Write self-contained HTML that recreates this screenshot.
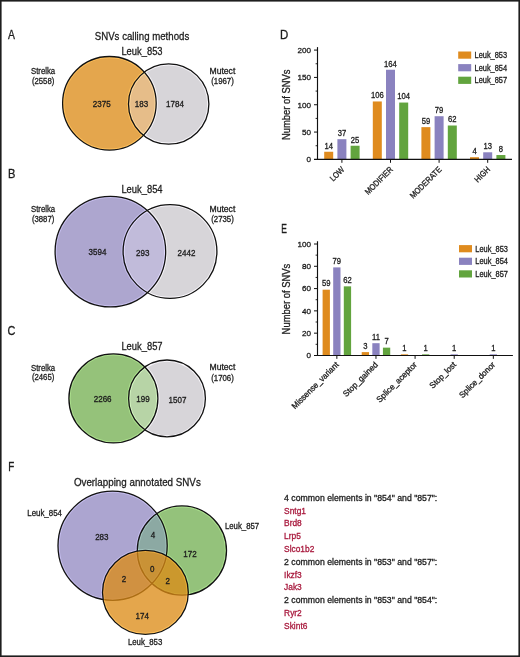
<!DOCTYPE html>
<html><head><meta charset="utf-8">
<style>
html,body{margin:0;padding:0;background:#fff;}
body{width:520px;height:657px;overflow:hidden;}
svg{display:block;will-change:transform;font-family:"Liberation Sans",sans-serif;}
text{fill:#1c1c1c;stroke:#1c1c1c;stroke-width:0.3px;}
text.red{fill:#a8183c;stroke:#a8183c;}
</style></head>
<body>
<svg width="520" height="657" viewBox="0 0 520 657">
<rect x="0.8" y="0.8" width="518.4" height="655.4" fill="#fff" stroke="#1e1e1e" stroke-width="1.6"/>
<circle cx="109.4" cy="103.3" r="46.8" fill="#e4a64d"/>
<circle cx="168.68" cy="104.01" r="40.19" fill="#d7d5d9"/>
<clipPath id="ca"><circle cx="109.4" cy="103.3" r="46.8"/></clipPath>
<circle cx="168.68" cy="104.01" r="40.19" fill="#e6bd89" clip-path="url(#ca)"/>
<circle cx="109.4" cy="103.3" r="46.8" fill="none" stroke="#222" stroke-width="3.3" style="mix-blend-mode:color-dodge"/>
<circle cx="168.68" cy="104.01" r="40.19" fill="none" stroke="#222" stroke-width="3.3" style="mix-blend-mode:color-dodge"/>
<circle cx="109.4" cy="103.3" r="46.8" fill="none" stroke="#111" stroke-width="1.3"/>
<circle cx="168.68" cy="104.01" r="40.19" fill="none" stroke="#111" stroke-width="1.3"/>
<text x="142" y="54.7" font-size="11.4" text-anchor="middle" textLength="41.2" lengthAdjust="spacingAndGlyphs">Leuk_853</text>
<text x="43.1" y="73.9" font-size="8.6" text-anchor="middle" textLength="24.2" lengthAdjust="spacingAndGlyphs">Strelka</text>
<text x="43.1" y="83.6" font-size="8.6" text-anchor="middle" textLength="22.4" lengthAdjust="spacingAndGlyphs">(2558)</text>
<text x="222.4" y="73.7" font-size="8.6" text-anchor="middle" textLength="25.8" lengthAdjust="spacingAndGlyphs">Mutect</text>
<text x="222.5" y="83.8" font-size="8.6" text-anchor="middle" textLength="22.6" lengthAdjust="spacingAndGlyphs">(1967)</text>
<text x="101.7" y="106.8" font-size="8.4" text-anchor="middle" textLength="17.85" lengthAdjust="spacingAndGlyphs">2375</text>
<text x="141.45" y="106.8" font-size="8.4" text-anchor="middle" textLength="13.38" lengthAdjust="spacingAndGlyphs">183</text>
<text x="175" y="106.8" font-size="8.4" text-anchor="middle" textLength="17.85" lengthAdjust="spacingAndGlyphs">1784</text>
<circle cx="110.4" cy="251.6" r="55.3" fill="#ada6cf"/>
<circle cx="170" cy="251.5" r="46.9" fill="#d7d5d9"/>
<clipPath id="cb"><circle cx="110.4" cy="251.6" r="55.3"/></clipPath>
<circle cx="170" cy="251.5" r="46.9" fill="#c1bbda" clip-path="url(#cb)"/>
<circle cx="110.4" cy="251.6" r="55.3" fill="none" stroke="#222" stroke-width="3.3" style="mix-blend-mode:color-dodge"/>
<circle cx="170" cy="251.5" r="46.9" fill="none" stroke="#222" stroke-width="3.3" style="mix-blend-mode:color-dodge"/>
<circle cx="110.4" cy="251.6" r="55.3" fill="none" stroke="#111" stroke-width="1.3"/>
<circle cx="170" cy="251.5" r="46.9" fill="none" stroke="#111" stroke-width="1.3"/>
<text x="142" y="193.3" font-size="11.4" text-anchor="middle" textLength="41.2" lengthAdjust="spacingAndGlyphs">Leuk_854</text>
<text x="43.1" y="212.1" font-size="8.6" text-anchor="middle" textLength="24.2" lengthAdjust="spacingAndGlyphs">Strelka</text>
<text x="43.1" y="222.2" font-size="8.6" text-anchor="middle" textLength="22.4" lengthAdjust="spacingAndGlyphs">(3887)</text>
<text x="222.4" y="211.9" font-size="8.6" text-anchor="middle" textLength="25.8" lengthAdjust="spacingAndGlyphs">Mutect</text>
<text x="222.5" y="222.39999999999998" font-size="8.6" text-anchor="middle" textLength="22.6" lengthAdjust="spacingAndGlyphs">(2735)</text>
<text x="97.5" y="255.1" font-size="8.4" text-anchor="middle" textLength="17.85" lengthAdjust="spacingAndGlyphs">3594</text>
<text x="142.7" y="255.5" font-size="8.4" text-anchor="middle" textLength="13.38" lengthAdjust="spacingAndGlyphs">293</text>
<text x="186.5" y="256" font-size="8.4" text-anchor="middle" textLength="17.85" lengthAdjust="spacingAndGlyphs">2442</text>
<circle cx="113.4" cy="398.4" r="44.5" fill="#95c27a"/>
<circle cx="167" cy="398.4" r="38.4" fill="#d7d5d9"/>
<clipPath id="cc"><circle cx="113.4" cy="398.4" r="44.5"/></clipPath>
<circle cx="167" cy="398.4" r="38.4" fill="#b7d4a6" clip-path="url(#cc)"/>
<circle cx="113.4" cy="398.4" r="44.5" fill="none" stroke="#222" stroke-width="3.3" style="mix-blend-mode:color-dodge"/>
<circle cx="167" cy="398.4" r="38.4" fill="none" stroke="#222" stroke-width="3.3" style="mix-blend-mode:color-dodge"/>
<circle cx="113.4" cy="398.4" r="44.5" fill="none" stroke="#111" stroke-width="1.3"/>
<circle cx="167" cy="398.4" r="38.4" fill="none" stroke="#111" stroke-width="1.3"/>
<text x="142" y="350" font-size="11.4" text-anchor="middle" textLength="41.2" lengthAdjust="spacingAndGlyphs">Leuk_857</text>
<text x="43.1" y="370.5" font-size="8.6" text-anchor="middle" textLength="24.2" lengthAdjust="spacingAndGlyphs">Strelka</text>
<text x="43.1" y="380.4" font-size="8.6" text-anchor="middle" textLength="22.4" lengthAdjust="spacingAndGlyphs">(2465)</text>
<text x="222.4" y="370.3" font-size="8.6" text-anchor="middle" textLength="25.8" lengthAdjust="spacingAndGlyphs">Mutect</text>
<text x="222.5" y="380.59999999999997" font-size="8.6" text-anchor="middle" textLength="22.6" lengthAdjust="spacingAndGlyphs">(1706)</text>
<text x="102.65" y="402" font-size="8.4" text-anchor="middle" textLength="17.85" lengthAdjust="spacingAndGlyphs">2266</text>
<text x="143" y="402" font-size="8.4" text-anchor="middle" textLength="13.38" lengthAdjust="spacingAndGlyphs">199</text>
<text x="177.5" y="402.5" font-size="8.4" text-anchor="middle" textLength="17.85" lengthAdjust="spacingAndGlyphs">1507</text>
<text x="142" y="40.3" font-size="11.6" text-anchor="middle" textLength="94.5" lengthAdjust="spacingAndGlyphs">SNVs calling methods</text>
<text transform="translate(8.08,39.2) scale(0.846,1)" font-size="12.3">A</text>
<text transform="translate(7.89,178) scale(0.9,1)" font-size="12.3">B</text>
<text transform="translate(7.45,335.2) scale(0.886,1)" font-size="12.3">C</text>
<text transform="translate(8.24,471) scale(0.8,1)" font-size="12.3">F</text>
<text transform="translate(279.9,38.8) scale(0.934,1)" font-size="12.3">D</text>
<text transform="translate(281.35,232.8) scale(0.69,1)" font-size="12.3">E</text>
<clipPath id="fp"><circle cx="112.6" cy="545.7" r="54.6"/></clipPath>
<circle cx="112.6" cy="545.7" r="54.6" fill="#aca5d0"/>
<circle cx="181.9" cy="550.5" r="44.6" fill="#94c27b"/>
<circle cx="181.9" cy="550.5" r="44.6" fill="#8ca9a3" clip-path="url(#fp)"/>
<circle cx="112.6" cy="545.7" r="54.6" fill="none" stroke="#222" stroke-width="3.3" style="mix-blend-mode:color-dodge"/>
<circle cx="181.9" cy="550.5" r="44.6" fill="none" stroke="#222" stroke-width="3.3" style="mix-blend-mode:color-dodge"/>
<circle cx="112.6" cy="545.7" r="54.6" fill="none" stroke="#111" stroke-width="1.3"/>
<circle cx="181.9" cy="550.5" r="44.6" fill="none" stroke="#111" stroke-width="1.3"/>
<ellipse cx="145.4" cy="592.4" rx="42.9" ry="42.0" fill="rgb(220,139,21)" fill-opacity="0.765"/>
<ellipse cx="145.4" cy="592.4" rx="42.9" ry="42.0" fill="none" stroke="#222" stroke-width="3.3" style="mix-blend-mode:color-dodge"/>
<ellipse cx="145.4" cy="592.4" rx="42.9" ry="42.0" fill="none" stroke="#111" stroke-width="1.3"/>
<text x="137.35" y="486.4" font-size="11.6" text-anchor="middle" textLength="126.9" lengthAdjust="spacingAndGlyphs">Overlapping annotated SNVs</text>
<text x="44.6" y="516.2" font-size="8.6" text-anchor="middle" textLength="34.6" lengthAdjust="spacingAndGlyphs">Leuk_854</text>
<text x="242.05" y="528.5" font-size="8.6" text-anchor="middle" textLength="34.3" lengthAdjust="spacingAndGlyphs">Leuk_857</text>
<text x="145.1" y="644.8" font-size="8.6" text-anchor="middle" textLength="34.4" lengthAdjust="spacingAndGlyphs">Leuk_853</text>
<text x="101.85" y="540.3" font-size="8.4" text-anchor="middle" textLength="13.38" lengthAdjust="spacingAndGlyphs">283</text>
<text x="153.1" y="538.2" font-size="8.4" text-anchor="middle" textLength="4.46" lengthAdjust="spacingAndGlyphs">4</text>
<text x="190" y="556.6" font-size="8.4" text-anchor="middle" textLength="13.38" lengthAdjust="spacingAndGlyphs">172</text>
<text x="152.25" y="571.8" font-size="8.4" text-anchor="middle" textLength="4.46" lengthAdjust="spacingAndGlyphs">0</text>
<text x="124" y="582.2" font-size="8.4" text-anchor="middle" textLength="4.46" lengthAdjust="spacingAndGlyphs">2</text>
<text x="167.65" y="583.7" font-size="8.4" text-anchor="middle" textLength="4.46" lengthAdjust="spacingAndGlyphs">2</text>
<text x="142.2" y="618.5" font-size="8.4" text-anchor="middle" textLength="13.38" lengthAdjust="spacingAndGlyphs">174</text>
<rect x="324.20" y="151.75" width="9" height="7.65" fill="#df8b1e"/>
<text x="328.70" y="148.55" font-size="8.5" text-anchor="middle" textLength="8.51" lengthAdjust="spacingAndGlyphs">14</text>
<rect x="337.40" y="139.18" width="9" height="20.22" fill="#8a82bf"/>
<text x="341.90" y="135.98" font-size="8.5" text-anchor="middle" textLength="8.51" lengthAdjust="spacingAndGlyphs">37</text>
<rect x="350.60" y="145.74" width="9" height="13.66" fill="#62a43e"/>
<text x="355.10" y="142.54" font-size="8.5" text-anchor="middle" textLength="8.51" lengthAdjust="spacingAndGlyphs">25</text>
<line x1="341.90" y1="159.4" x2="341.90" y2="162.8" stroke="#111" stroke-width="1"/>
<text transform="translate(344.90,170.10) rotate(-45)" font-size="8.4" text-anchor="end" textLength="16.65" lengthAdjust="spacingAndGlyphs">LOW</text>
<rect x="372.80" y="101.46" width="9" height="57.94" fill="#df8b1e"/>
<text x="377.30" y="98.26" font-size="8.5" text-anchor="middle" textLength="12.76" lengthAdjust="spacingAndGlyphs">106</text>
<rect x="386.00" y="69.76" width="9" height="89.64" fill="#8a82bf"/>
<text x="390.50" y="66.56" font-size="8.5" text-anchor="middle" textLength="12.76" lengthAdjust="spacingAndGlyphs">164</text>
<rect x="399.20" y="102.55" width="9" height="56.85" fill="#62a43e"/>
<text x="403.70" y="99.35" font-size="8.5" text-anchor="middle" textLength="12.76" lengthAdjust="spacingAndGlyphs">104</text>
<line x1="390.50" y1="159.4" x2="390.50" y2="162.8" stroke="#111" stroke-width="1"/>
<text transform="translate(393.50,170.10) rotate(-45)" font-size="8.4" text-anchor="end" textLength="35.73" lengthAdjust="spacingAndGlyphs">MODIFIER</text>
<rect x="421.40" y="127.15" width="9" height="32.25" fill="#df8b1e"/>
<text x="425.90" y="123.95" font-size="8.5" text-anchor="middle" textLength="8.51" lengthAdjust="spacingAndGlyphs">59</text>
<rect x="434.60" y="116.22" width="9" height="43.18" fill="#8a82bf"/>
<text x="439.10" y="113.02" font-size="8.5" text-anchor="middle" textLength="8.51" lengthAdjust="spacingAndGlyphs">79</text>
<rect x="447.80" y="125.51" width="9" height="33.89" fill="#62a43e"/>
<text x="452.30" y="122.31" font-size="8.5" text-anchor="middle" textLength="8.51" lengthAdjust="spacingAndGlyphs">62</text>
<line x1="439.10" y1="159.4" x2="439.10" y2="162.8" stroke="#111" stroke-width="1"/>
<text transform="translate(442.10,170.10) rotate(-45)" font-size="8.4" text-anchor="end" textLength="40.87" lengthAdjust="spacingAndGlyphs">MODERATE</text>
<rect x="470.00" y="157.21" width="9" height="2.19" fill="#df8b1e"/>
<text x="474.50" y="154.01" font-size="8.5" text-anchor="middle" textLength="4.25" lengthAdjust="spacingAndGlyphs">4</text>
<rect x="483.20" y="152.29" width="9" height="7.11" fill="#8a82bf"/>
<text x="487.70" y="149.09" font-size="8.5" text-anchor="middle" textLength="8.51" lengthAdjust="spacingAndGlyphs">13</text>
<rect x="496.40" y="155.03" width="9" height="4.37" fill="#62a43e"/>
<text x="500.90" y="151.83" font-size="8.5" text-anchor="middle" textLength="4.25" lengthAdjust="spacingAndGlyphs">8</text>
<line x1="487.70" y1="159.4" x2="487.70" y2="162.8" stroke="#111" stroke-width="1"/>
<text transform="translate(490.70,170.10) rotate(-45)" font-size="8.4" text-anchor="end" textLength="18.27" lengthAdjust="spacingAndGlyphs">HIGH</text>
<line x1="317.5" y1="47.1" x2="317.5" y2="159.95000000000002" stroke="#111" stroke-width="1.15"/>
<line x1="314.0" y1="159.4" x2="512" y2="159.4" stroke="#111" stroke-width="1.15"/>
<line x1="314.0" y1="132.07" x2="317.5" y2="132.07" stroke="#111" stroke-width="1"/>
<line x1="314.0" y1="104.74" x2="317.5" y2="104.74" stroke="#111" stroke-width="1"/>
<line x1="314.0" y1="77.41" x2="317.5" y2="77.41" stroke="#111" stroke-width="1"/>
<line x1="314.0" y1="50.08" x2="317.5" y2="50.08" stroke="#111" stroke-width="1"/>
<text x="311.1" y="162.30" font-size="8.1" text-anchor="end">0</text>
<text x="311.1" y="134.97" font-size="8.1" text-anchor="end">50</text>
<text x="311.1" y="107.64" font-size="8.1" text-anchor="end">100</text>
<text x="311.1" y="80.31" font-size="8.1" text-anchor="end">150</text>
<text x="311.1" y="52.98" font-size="8.1" text-anchor="end">200</text>
<line x1="315.6" y1="145.74" x2="317.5" y2="145.74" stroke="#111" stroke-width="0.9"/>
<line x1="315.6" y1="118.41" x2="317.5" y2="118.41" stroke="#111" stroke-width="0.9"/>
<line x1="315.6" y1="91.08" x2="317.5" y2="91.08" stroke="#111" stroke-width="0.9"/>
<line x1="315.6" y1="63.75" x2="317.5" y2="63.75" stroke="#111" stroke-width="0.9"/>
<text transform="translate(289.9,104.75) rotate(-90)" font-size="10" text-anchor="middle" textLength="70.6" lengthAdjust="spacingAndGlyphs">Number of SNVs</text>
<rect x="458.2" y="51.50" width="13" height="7.2" fill="#df8b1e"/>
<text x="474.5" y="58.15" font-size="8.3" textLength="32.6" lengthAdjust="spacingAndGlyphs">Leuk_853</text>
<rect x="458.2" y="64.10" width="13" height="7.2" fill="#8a82bf"/>
<text x="474.5" y="70.75" font-size="8.3" textLength="32.6" lengthAdjust="spacingAndGlyphs">Leuk_854</text>
<rect x="458.2" y="76.70" width="13" height="7.2" fill="#62a43e"/>
<text x="474.5" y="83.35" font-size="8.3" textLength="32.6" lengthAdjust="spacingAndGlyphs">Leuk_857</text>
<rect x="322.60" y="289.69" width="7.3" height="65.76" fill="#df8b1e"/>
<text x="326.25" y="286.49" font-size="8.5" text-anchor="middle" textLength="8.51" lengthAdjust="spacingAndGlyphs">59</text>
<rect x="333.20" y="267.40" width="7.3" height="88.05" fill="#8a82bf"/>
<text x="336.85" y="264.20" font-size="8.5" text-anchor="middle" textLength="8.51" lengthAdjust="spacingAndGlyphs">79</text>
<rect x="343.80" y="286.35" width="7.3" height="69.10" fill="#62a43e"/>
<text x="347.45" y="283.15" font-size="8.5" text-anchor="middle" textLength="8.51" lengthAdjust="spacingAndGlyphs">62</text>
<line x1="336.85" y1="355.45" x2="336.85" y2="358.84999999999997" stroke="#111" stroke-width="1"/>
<text transform="translate(339.25,365.25) rotate(-45)" font-size="8.4" text-anchor="end" textLength="62.75" lengthAdjust="spacingAndGlyphs">Missense_variant</text>
<rect x="361.72" y="352.11" width="7.3" height="3.34" fill="#df8b1e"/>
<text x="365.37" y="348.91" font-size="8.5" text-anchor="middle" textLength="4.25" lengthAdjust="spacingAndGlyphs">3</text>
<rect x="372.32" y="343.19" width="7.3" height="12.26" fill="#8a82bf"/>
<text x="375.97" y="339.99" font-size="8.5" text-anchor="middle" textLength="7.94" lengthAdjust="spacingAndGlyphs">11</text>
<rect x="382.92" y="347.65" width="7.3" height="7.80" fill="#62a43e"/>
<text x="386.57" y="344.45" font-size="8.5" text-anchor="middle" textLength="4.25" lengthAdjust="spacingAndGlyphs">7</text>
<line x1="375.97" y1="355.45" x2="375.97" y2="358.84999999999997" stroke="#111" stroke-width="1"/>
<text transform="translate(378.37,365.25) rotate(-45)" font-size="8.4" text-anchor="end" textLength="45.29" lengthAdjust="spacingAndGlyphs">Stop_gained</text>
<rect x="400.84" y="354.34" width="7.3" height="1.11" fill="#df8b1e"/>
<text x="404.49" y="351.14" font-size="8.5" text-anchor="middle" textLength="4.25" lengthAdjust="spacingAndGlyphs">1</text>
<rect x="422.04" y="354.34" width="7.3" height="1.11" fill="#62a43e"/>
<text x="425.69" y="351.14" font-size="8.5" text-anchor="middle" textLength="4.25" lengthAdjust="spacingAndGlyphs">1</text>
<line x1="415.09" y1="355.45" x2="415.09" y2="358.84999999999997" stroke="#111" stroke-width="1"/>
<text transform="translate(417.49,365.25) rotate(-45)" font-size="8.4" text-anchor="end" textLength="53.35" lengthAdjust="spacingAndGlyphs">Splice_aceptor</text>
<rect x="450.56" y="354.34" width="7.3" height="1.11" fill="#8a82bf"/>
<text x="454.21" y="351.14" font-size="8.5" text-anchor="middle" textLength="4.25" lengthAdjust="spacingAndGlyphs">1</text>
<line x1="454.21" y1="355.45" x2="454.21" y2="358.84999999999997" stroke="#111" stroke-width="1"/>
<text transform="translate(456.61,365.25) rotate(-45)" font-size="8.4" text-anchor="end" textLength="33.62" lengthAdjust="spacingAndGlyphs">Stop_lost</text>
<rect x="489.68" y="354.34" width="7.3" height="1.11" fill="#8a82bf"/>
<text x="493.33" y="351.14" font-size="8.5" text-anchor="middle" textLength="4.25" lengthAdjust="spacingAndGlyphs">1</text>
<line x1="493.33" y1="355.45" x2="493.33" y2="358.84999999999997" stroke="#111" stroke-width="1"/>
<text transform="translate(495.73,365.25) rotate(-45)" font-size="8.4" text-anchor="end" textLength="47.07" lengthAdjust="spacingAndGlyphs">Splice_donor</text>
<line x1="317.5" y1="241.25" x2="317.5" y2="356.0" stroke="#111" stroke-width="1.15"/>
<line x1="314.0" y1="355.45" x2="512.9" y2="355.45" stroke="#111" stroke-width="1.15"/>
<line x1="314.0" y1="333.16" x2="317.5" y2="333.16" stroke="#111" stroke-width="1"/>
<line x1="314.0" y1="310.87" x2="317.5" y2="310.87" stroke="#111" stroke-width="1"/>
<line x1="314.0" y1="288.58" x2="317.5" y2="288.58" stroke="#111" stroke-width="1"/>
<line x1="314.0" y1="266.29" x2="317.5" y2="266.29" stroke="#111" stroke-width="1"/>
<line x1="314.0" y1="244.00" x2="317.5" y2="244.00" stroke="#111" stroke-width="1"/>
<text x="311.1" y="358.35" font-size="8.1" text-anchor="end">0</text>
<text x="311.1" y="336.06" font-size="8.1" text-anchor="end">20</text>
<text x="311.1" y="313.77" font-size="8.1" text-anchor="end">40</text>
<text x="311.1" y="291.48" font-size="8.1" text-anchor="end">60</text>
<text x="311.1" y="269.19" font-size="8.1" text-anchor="end">80</text>
<text x="311.1" y="246.90" font-size="8.1" text-anchor="end">100</text>
<line x1="315.6" y1="344.31" x2="317.5" y2="344.31" stroke="#111" stroke-width="0.9"/>
<line x1="315.6" y1="322.01" x2="317.5" y2="322.01" stroke="#111" stroke-width="0.9"/>
<line x1="315.6" y1="299.72" x2="317.5" y2="299.72" stroke="#111" stroke-width="0.9"/>
<line x1="315.6" y1="277.44" x2="317.5" y2="277.44" stroke="#111" stroke-width="0.9"/>
<line x1="315.6" y1="255.14" x2="317.5" y2="255.14" stroke="#111" stroke-width="0.9"/>
<text transform="translate(289.9,299.1) rotate(-90)" font-size="10" text-anchor="middle" textLength="70.6" lengthAdjust="spacingAndGlyphs">Number of SNVs</text>
<rect x="459.0" y="245.10" width="13" height="7.2" fill="#df8b1e"/>
<text x="475.3" y="251.75" font-size="8.3" textLength="32.6" lengthAdjust="spacingAndGlyphs">Leuk_853</text>
<rect x="459.0" y="257.70" width="13" height="7.2" fill="#8a82bf"/>
<text x="475.3" y="264.35" font-size="8.3" textLength="32.6" lengthAdjust="spacingAndGlyphs">Leuk_854</text>
<rect x="459.0" y="270.30" width="13" height="7.2" fill="#62a43e"/>
<text x="475.3" y="276.95" font-size="8.3" textLength="32.6" lengthAdjust="spacingAndGlyphs">Leuk_857</text>
<text x="284.1" y="500.80" font-size="9.1" textLength="153.2" lengthAdjust="spacingAndGlyphs">4 common elements in "854" and "857":</text>
<text x="284.1" y="513.60" font-size="9.1" textLength="21.88" lengthAdjust="spacingAndGlyphs" class="red">Sntg1</text>
<text x="284.1" y="526.40" font-size="9.1" textLength="17.68" lengthAdjust="spacingAndGlyphs" class="red">Brd8</text>
<text x="284.1" y="539.20" font-size="9.1" textLength="16.76" lengthAdjust="spacingAndGlyphs" class="red">Lrp5</text>
<text x="284.1" y="552.00" font-size="9.1" textLength="30.25" lengthAdjust="spacingAndGlyphs" class="red">Slco1b2</text>
<text x="284.1" y="564.80" font-size="9.1" textLength="153.2" lengthAdjust="spacingAndGlyphs">2 common elements in "853" and "857":</text>
<text x="284.1" y="577.60" font-size="9.1" textLength="17.68" lengthAdjust="spacingAndGlyphs" class="red">Ikzf3</text>
<text x="284.1" y="590.40" font-size="9.1" textLength="17.68" lengthAdjust="spacingAndGlyphs" class="red">Jak3</text>
<text x="284.1" y="603.20" font-size="9.1" textLength="153.2" lengthAdjust="spacingAndGlyphs">2 common elements in "853" and "854":</text>
<text x="284.1" y="616.00" font-size="9.1" textLength="17.68" lengthAdjust="spacingAndGlyphs" class="red">Ryr2</text>
<text x="284.1" y="628.80" font-size="9.1" textLength="23.27" lengthAdjust="spacingAndGlyphs" class="red">Skint6</text>
</svg>
</body></html>
